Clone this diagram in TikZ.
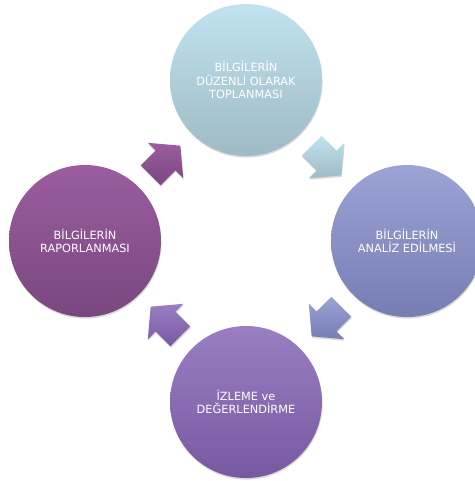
\documentclass[tikz,border=0pt]{standalone}
\usepackage{fontspec}
\setmainfont{DejaVu Sans}
\usetikzlibrary{calc,shadows}

\definecolor{toplight}{RGB}{192,227,239}
\definecolor{topdark}{RGB}{158,186,197}
\definecolor{rightlight}{RGB}{156,163,213}
\definecolor{rightdark}{RGB}{117,125,178}
\definecolor{bottomlight}{RGB}{154,126,194}
\definecolor{bottomdark}{RGB}{119,89,161}
\definecolor{leftlight}{RGB}{155,93,159}
\definecolor{leftdark}{RGB}{121,71,127}

\tikzset{every picture/.style={line width=0.75pt}}
\tikzset{
  soft shadow/.style={drop shadow={shadow xshift=0.4pt, shadow yshift=-1.2pt, opacity=0.3}},
  stage/.style={circle, minimum size=114pt, inner sep=0pt, align=center,
    text=white, font=\fontsize{8.5}{10}\selectfont, soft shadow}
}

% block arrow half way between two stages: #1 from, #2 to, #3/#4 shading
\newcommand{\cyclearrow}[4]{%
  \coordinate (mid) at ($(#1)!0.5!(#2)$);
  \coordinate (tail) at ($(mid)!-15.75pt!(#2)$);
  \coordinate (tip) at ($(mid)!15.75pt!(#2)$);
  \path [top color=#3, bottom color=#4, soft shadow]
    ($(tail)!10.5pt!90:(#2)$) -- ($(mid)!10.5pt!90:(#2)$) -- ($(mid)!18.75pt!90:(#2)$)
    -- (tip) -- ($(mid)!18.75pt!-90:(#2)$) -- ($(mid)!10.5pt!-90:(#2)$)
    -- ($(tail)!10.5pt!-90:(#2)$) -- cycle ;
}

\begin{document}
\begin{tikzpicture}[x=0.75pt,y=0.75pt,yscale=-1,xscale=1]
\useasboundingbox (0,0) rectangle (474,481);

%Shape: Circle
\node [stage, top color=toplight, bottom color=topdark] (collect) at (246,80) {BİLGİLERİN\\DÜZENLİ OLARAK\\TOPLANMASI};
%Shape: Circle
\node [stage, top color=rightlight, bottom color=rightdark] (analyse) at (407,241) {BİLGİLERİN\\ANALİZ EDİLMESİ};
%Shape: Circle
\node [stage, top color=bottomlight, bottom color=bottomdark] (monitor) at (246,402) {İZLEME ve\\DEĞERLENDİRME};
%Shape: Circle
\node [stage, top color=leftlight, bottom color=leftdark] (report) at (85,241) {BİLGİLERİN\\RAPORLANMASI};

%Shape: Right Arrow
\cyclearrow{collect}{analyse}{toplight}{topdark}
%Shape: Right Arrow
\cyclearrow{analyse}{monitor}{rightlight}{rightdark}
%Shape: Right Arrow
\cyclearrow{monitor}{report}{bottomlight}{bottomdark}
%Shape: Right Arrow
\cyclearrow{report}{collect}{leftlight}{leftdark}

\end{tikzpicture}
\end{document}
